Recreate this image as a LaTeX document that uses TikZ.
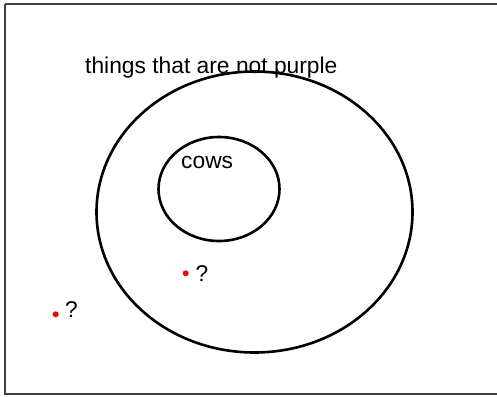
\documentclass[tikz,border=0pt]{standalone}
\usepackage{fontspec}
\setmainfont{Liberation Sans}
\usetikzlibrary{shapes.geometric}
\begin{document}
\begin{tikzpicture}[x=1pt,y=-1pt,
  setbox/.style={draw, ellipse, line width=2.6pt, inner sep=0pt},
  lbl/.style={anchor=base west, inner sep=0pt, font=\fontsize{22.8}{26}\selectfont},
  reddot/.style={circle, fill=red, inner sep=0pt, minimum size=6pt}]
\useasboundingbox (0,0) rectangle (497,396);
\draw[line width=2pt, black!75] (5,4) -- (505,4) (5,4) -- (5,394) -- (505,394);
\node[setbox, minimum width=316pt, minimum height=281pt] (outer) at (254.5,212) {};
\node[setbox, minimum width=121pt, minimum height=104pt] (inner) at (219,189) {};
\node[lbl] (tlabel) at (85,73) {things that are not purple};
\node[lbl] (clabel) at (181,168) {cows};
\node[reddot] (d1) at (185.7,273.3) {};
\node[lbl] (q1) at (195.5,281) {?};
\node[reddot] (d2) at (55.7,314.3) {};
\node[lbl] (q2) at (65,317) {?};
\end{tikzpicture}
\end{document}
